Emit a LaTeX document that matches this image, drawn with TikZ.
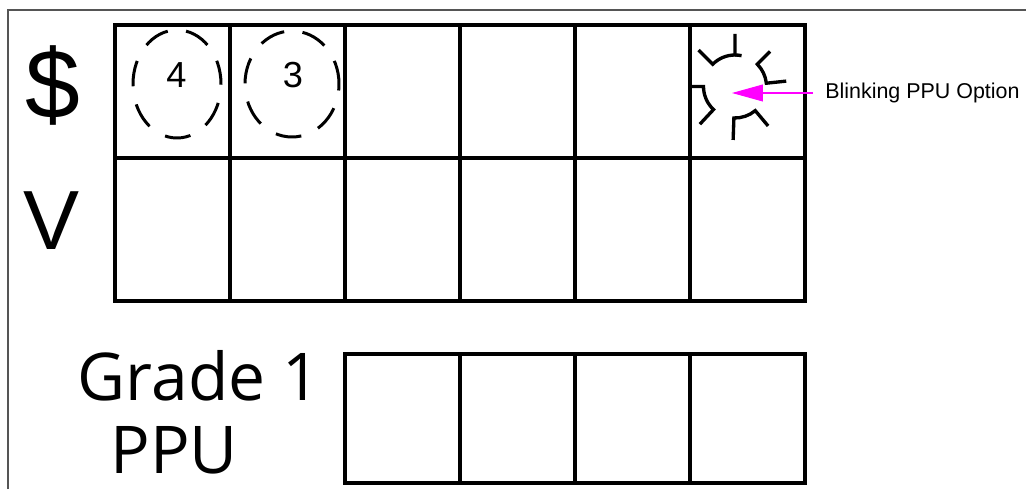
\documentclass[tikz,border=0pt]{standalone}
\usepackage{fontspec}
\setmainfont{Liberation Sans}
\newfontfamily\gradefont{Open Sans}
\usepackage{xcolor}
\usepackage{tikz}
\usetikzlibrary{
  arrows.meta,
  positioning,
  calc,
}
\definecolor{framegray}{RGB}{85,85,85}
\definecolor{blinkpink}{RGB}{255,0,255}

\begin{document}
\begin{tikzpicture}[
  cell/.style={line width=2pt},
  ring/.style={line width=1.7pt, dash pattern=on 14.7pt off 10.5pt, dash phase=1.2pt},
  blinkline/.style={line width=1.9pt},
  bigsym/.style={font=\fontsize{47.8}{50}\selectfont, inner sep=0pt, anchor=base},
  digit/.style={font=\fontsize{20.6}{22}\selectfont, inner sep=0pt, anchor=base},
  gradetext/.style={font=\gradefont\fontsize{37.5}{40}\selectfont, inner sep=0pt, anchor=base},
]

\useasboundingbox (0,0) rectangle (20.52,9.78);
\draw[framegray, line width=1pt] (0.16,0) -- (0.16,9.58) -- (20.52,9.58);

% two upper rows of six cells
\foreach \c in {0,...,5}{
  \draw[cell] (2.3+2.3*\c,6.62) rectangle +(2.3,2.66);
  \draw[cell] (2.3+2.3*\c,3.76) rectangle +(2.3,2.86);
}
% grade 1 row of four cells
\foreach \c in {0,...,3}{
  \draw[cell] (6.9+2.3*\c,0.12) rectangle +(2.3,2.58);
}

\node[bigsym, font=\fontsize{56}{58}\selectfont] (dollar) at (1.06,7.40) {\$};
\node[bigsym] (volt) at (1.04,4.78) {V};

\node[gradetext] (gradelbl) at (3.98,1.78) {Grade 1};
\node[gradetext] (ppulbl) at (3.48,0.32) {PPU};

% dashed rings round the option numbers
\draw[ring] (3.54,8.10) ellipse (0.88cm and 1.08cm);
\draw[ring] (5.84,8.10) ellipse (0.94cm and 1.06cm);
\node[digit] (numfour) at (3.53,8.02) {4};
\node[digit] (numthree) at (5.86,8.02) {3};

% blinking option
\coordinate (blink) at (14.70,8.05);
\foreach \a/\b/\ra/\rb in {135/90/1.03/1.05,45/6/0.99/1.03,268/310/1.07/1.03,180/227/0.92/1.03}{
  \draw[blinkline] ($(blink)+(\a:\ra)$) -- ($(blink)+(\a:0.63)$)
    arc[start angle=\a, end angle=\b, radius=0.63] -- ($(blink)+(\b:\rb)$);
}
\draw[blinkline] ($(blink)+(90:0.63)$) arc[start angle=90, end angle=78, radius=0.63];

\coordinate (blinktip) at (14.64,7.92);
\node[anchor=west, font=\fontsize{12.2}{14}\selectfont, inner xsep=6.8pt, inner ysep=0pt] (optlabel) at (16.26,7.92) {Blinking PPU Option};
\draw[blinkpink, line width=0.6pt, -{Triangle[length=17.6pt,width=9.6pt]}] (optlabel.west) -- (blinktip);

\end{tikzpicture}
\end{document}
